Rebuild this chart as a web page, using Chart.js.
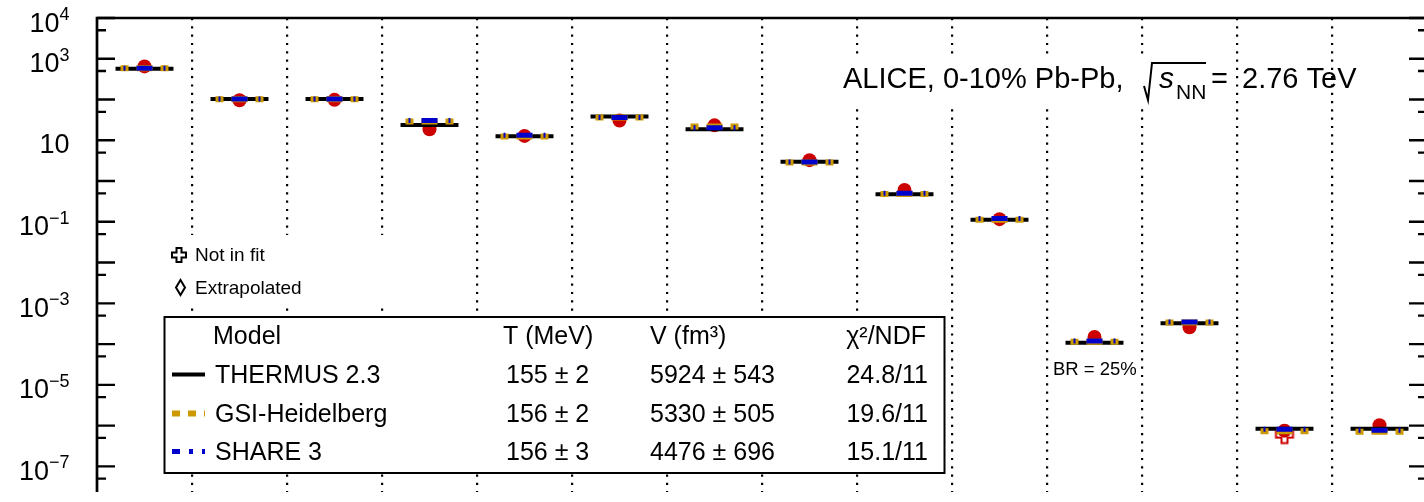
<!DOCTYPE html>
<html lang="en">
<head>
<meta charset="UTF-8">
<title>Thermal model fits - ALICE 0-10% Pb-Pb</title>
<script src="https://cdn.jsdelivr.net/npm/chart.js"></script>
<style>
  html, body { margin: 0; padding: 0; background: #fff; overflow: hidden; }
  #wrap { width: 1440px; height: 502px; }
</style>
</head>
<body>
<div id="wrap"><canvas id="yields" width="1440" height="502"></canvas></div>
<script>
// one column per particle (axis labels are outside the visible crop)
const particles = ['π', 'K', 'K0S', 'K*0', 'φ', 'p', 'Λ', 'Ξ', 'Ω', 'd', '3ΛH', '3He', '4He', '4He bar'];

// dN/dy, red points
const measured = [650, 96, 98, 18.6, 12.8, 30.6, 23.2, 3.25, 0.60, 0.116, 1.49e-4, 2.59e-4, 7.5e-7, 1.02e-6];
// model yields
const thermus = [570, 103, 103, 23.6, 12.6, 38.2, 18.6, 2.95, 0.473, 0.112, 1.07e-4, 3.23e-4, 8.33e-7, 8.33e-7];
const gsi     = [585, 102, 102, 29.0, 12.3, 36.1, 21.9, 2.83, 0.482, 0.112, 1.13e-4, 3.36e-4, 7.2e-7, 7.06e-7];
const share   = [585, 103, 103, 30.6, 13.3, 36.1, 20.2, 2.93, 0.503, 0.121, 1.18e-4, 3.45e-4, 8.1e-7, 7.7e-7];
// open cross marker ("Not in fit")
const notInFit = [null, null, null, null, null, null, null, null, null, null, null, null, 6.0e-7, null];

const yTickLabels = ['10^4', '10^3', '10', '10^-1', '10^-3', '10^-5', '10^-7'];

const modelNames = ['THERMUS 2.3', 'GSI-Heidelberg', 'SHARE 3'];
const modelT     = ['155 ± 2', '156 ± 2', '156 ± 3'];
const modelV     = ['5924 ± 543', '5330 ± 505', '4476 ± 696'];
const modelChi2  = ['24.8/11', '19.6/11', '15.1/11'];

const RED = '#cc0000';
const GOLD = '#cc9900';
const BLUE = '#0000cc';
const FONT = '"Liberation Sans", Arial, sans-serif';

Chart.defaults.font.family = FONT;

// horizontal bar for each column, broken between columns
function segments(values, half) {
  const pts = [];
  values.forEach((v, i) => {
    pts.push({ x: i - half, y: v }, { x: i + half, y: v }, { x: i + 0.5, y: null });
  });
  return pts;
}

function crossPath(g, cx, cy, h, a) {
  g.beginPath();
  g.moveTo(cx - a, cy - h); g.lineTo(cx + a, cy - h); g.lineTo(cx + a, cy - a);
  g.lineTo(cx + h, cy - a); g.lineTo(cx + h, cy + a); g.lineTo(cx + a, cy + a);
  g.lineTo(cx + a, cy + h); g.lineTo(cx - a, cy + h); g.lineTo(cx - a, cy + a);
  g.lineTo(cx - h, cy + a); g.lineTo(cx - h, cy - a); g.lineTo(cx - a, cy - a);
  g.closePath();
}

function crossMarker(color) {
  const c = document.createElement('canvas');
  c.width = 22; c.height = 22;
  const g = c.getContext('2d');
  g.strokeStyle = color; g.lineWidth = 2;
  crossPath(g, 11, 11, 8.5, 3);
  g.stroke();
  return c;
}

function text(ctx, s, x, y, size, align, style) {
  ctx.font = (style || '') + ' ' + size + 'px ' + FONT;
  ctx.textAlign = align || 'left';
  ctx.textBaseline = 'alphabetic';
  ctx.fillText(s, x, y);
}

const decorations = {
  id: 'decorations',
  afterDraw(chart) {
    const ctx = chart.ctx;
    const area = chart.chartArea;
    const y = chart.scales.y;
    ctx.save();
    ctx.fillStyle = '#000';
    ctx.strokeStyle = '#000';

    // frame
    ctx.lineWidth = 2.7;
    ctx.beginPath();
    ctx.moveTo(area.left, area.bottom);
    ctx.lineTo(area.left, area.top);
    ctx.lineTo(area.right, area.top);
    ctx.lineTo(area.right, area.bottom);
    ctx.stroke();

    // inward ticks, major at decades, minor at 5 x 10^n
    ctx.lineWidth = 2.3;
    for (let e = -8; e <= 4; e++) {
      [[Math.pow(10, e), 18], [5 * Math.pow(10, e - 1), 9]].forEach(([v, len]) => {
        if (v < y.min || v > y.max) return;
        const py = y.getPixelForValue(v);
        ctx.beginPath();
        ctx.moveTo(area.left, py); ctx.lineTo(area.left + len, py);
        ctx.moveTo(area.right, py); ctx.lineTo(area.right - len, py);
        ctx.stroke();
      });
    }

    // tick labels
    yTickLabels.forEach(lbl => {
      const parts = lbl.split('^');
      const exp = parts.length > 1 ? Number(parts[1]) : 1;
      const py = y.getPixelForValue(Math.pow(10, exp));
      const right = 69.5;
      if (parts.length > 1) {
        const sup = parts[1].replace('-', '\u2212');
        ctx.font = '18px ' + FONT;
        const ws = ctx.measureText(sup).width;
        text(ctx, parts[0], right - ws, py + 13.5, 27, 'right');
        text(ctx, sup, right - ws, py + 2, 18, 'left');
      } else {
        text(ctx, parts[0], right, py + 13, 27, 'right');
      }
    });

    // header
    ctx.fillStyle = '#fff';
    ctx.fillRect(840, 55, 360, 53);
    ctx.fillStyle = '#000';
    text(ctx, 'ALICE, 0-10% Pb-Pb,', 843, 88, 29);
    ctx.lineWidth = 2;
    ctx.beginPath();
    ctx.moveTo(1144, 86); ctx.lineTo(1148, 100); ctx.lineTo(1152, 63); ctx.lineTo(1206, 63);
    ctx.stroke();
    text(ctx, 's', 1159, 88, 30, 'left', 'italic');
    text(ctx, 'NN', 1176, 99, 21);
    text(ctx, '=', 1211, 88, 29);
    text(ctx, '2.76 TeV', 1242, 88, 29);

    // marker legend
    ctx.fillStyle = '#fff';
    ctx.fillRect(150, 235, 326, 71);
    ctx.fillStyle = '#000';
    ctx.lineWidth = 2;
    crossPath(ctx, 179, 255, 7, 2.5);
    ctx.stroke();
    text(ctx, 'Not in fit', 195, 261, 19);
    ctx.beginPath();
    ctx.moveTo(180.5, 280); ctx.lineTo(185, 287.5); ctx.lineTo(180.5, 295); ctx.lineTo(176, 287.5);
    ctx.closePath();
    ctx.stroke();
    text(ctx, 'Extrapolated', 195, 294, 19);

    // model table
    ctx.fillStyle = '#fff';
    ctx.fillRect(164.5, 317, 780, 156);
    ctx.lineWidth = 2;
    ctx.strokeRect(164.5, 317, 780, 156);
    ctx.fillStyle = '#000';
    text(ctx, 'Model', 213, 344, 25);
    text(ctx, 'T (MeV)', 503, 344, 25);
    text(ctx, 'V (fm\u00b3)', 650, 344, 25);
    text(ctx, '\u03c7\u00b2/NDF', 926, 344, 25, 'right');
    const base = [383, 422, 460];
    const samples = [
      { color: '#000', width: 4, dash: [] },
      { color: GOLD, width: 6, dash: [8, 8] },
      { color: BLUE, width: 5, dash: [8, 9, 4, 9] }
    ];
    modelNames.forEach((name, k) => {
      const s = samples[k];
      ctx.save();
      ctx.strokeStyle = s.color; ctx.lineWidth = s.width; ctx.setLineDash(s.dash);
      ctx.beginPath();
      ctx.moveTo(172, base[k] - 8.5); ctx.lineTo(205, base[k] - 8.5);
      ctx.stroke();
      ctx.restore();
      text(ctx, name, 215, base[k], 25);
      text(ctx, modelT[k], 506, base[k], 25);
      text(ctx, modelV[k], 650, base[k], 25);
      text(ctx, modelChi2[k], 928, base[k], 25, 'right');
    });

    text(ctx, 'BR = 25%', 1053, 375, 18.5);
    ctx.restore();
  }
};

new Chart(document.getElementById('yields'), {
  type: 'scatter',
  data: {
    datasets: [
      {
        label: 'Data',
        data: measured.map((v, i) => ({ x: i, y: v })),
        pointRadius: 7, pointHoverRadius: 7, pointBorderWidth: 0,
        backgroundColor: RED, borderColor: RED, order: 5
      },
      {
        label: 'Not in fit',
        data: notInFit.map((v, i) => ({ x: i, y: v })),
        pointStyle: crossMarker(RED), pointRadius: 9, order: 4
      },
      {
        label: 'THERMUS 2.3',
        data: segments(thermus, 0.305),
        showLine: true, spanGaps: false, pointRadius: 0,
        borderColor: '#000', borderWidth: 4, borderCapStyle: 'butt', order: 3
      },
      {
        label: 'GSI-Heidelberg',
        data: segments(gsi, 0.2526),
        showLine: true, spanGaps: false, pointRadius: 0,
        borderColor: GOLD, borderWidth: 6, borderDash: [8, 8, 16, 8], borderCapStyle: 'butt', order: 2
      },
      {
        label: 'SHARE 3',
        data: segments(share, 0.221),
        showLine: true, spanGaps: false, pointRadius: 0,
        borderColor: BLUE, borderWidth: 5, borderDash: [2, 11, 16, 11], borderCapStyle: 'butt', order: 1
      }
    ]
  },
  options: {
    responsive: false,
    animation: false,
    events: [],
    layout: { padding: { left: 97, top: 18, right: 13, bottom: 0 } },
    plugins: { legend: { display: false }, tooltip: { enabled: false } },
    scales: {
      x: {
        type: 'linear',
        min: -0.5,
        max: particles.length - 0.5,
        afterBuildTicks: s => { s.ticks = particles.slice(1).map((p, i) => ({ value: i + 0.5 })); },
        afterFit: s => { s.height = 0; },
        ticks: { display: false },
        grid: { color: '#000', lineWidth: 2.2, drawTicks: false },
        border: { display: false, dash: [2.2, 6.1] }
      },
      y: {
        type: 'logarithmic',
        min: 2.34e-8,
        max: 1e4,
        display: false
      }
    }
  },
  plugins: [decorations]
});
</script>
</body>
</html>
